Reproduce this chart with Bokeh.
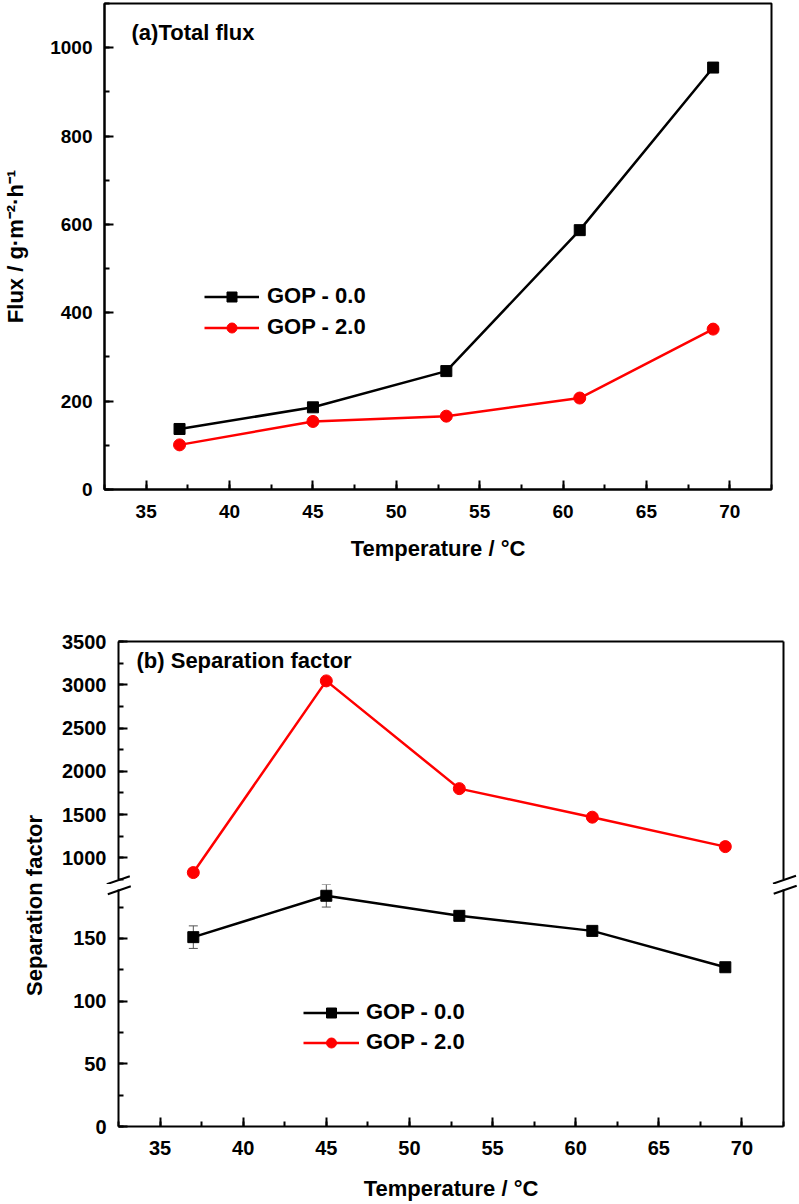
import math
from bokeh.plotting import figure
from bokeh.layouts import column, row
from bokeh.models import (Range1d, LinearAxis, SingleIntervalTicker, FixedTicker, Legend,
                          LegendItem, Label, Whisker, TeeHead, ColumnDataSource)
from bokeh.embed import file_html
from bokeh.resources import INLINE

# ---------------- data ----------------
temperature = [37, 45, 53, 61, 69]
flux_gop_00 = [137, 186, 268, 587, 955]
flux_gop_20 = [101, 154, 166, 207, 363]
sep_gop_00 = [151, 184, 168, 156, 127]
sep_gop_00_err = [9, 9, 3, 2, 2]
sep_gop_20 = [830, 3045, 1800, 1470, 1130]
series_labels = ["GOP - 0.0", "GOP - 2.0"]
x_label = "Temperature / °C"
flux_label = "Flux / g·m⁻²·h⁻¹"
sep_label = "Separation factor"
title_a = "(a)Total flux"
title_b = "(b) Separation factor"

FONT = "Liberation Sans"
BLACK = "#000000"
RED = "#ff0000"
ERR = "#555555"
LW = 2.5

X_START, X_END = 32.5, 72.5          # visible temperature axis
UP_START, UP_END = 750, 3500         # upper segment of the broken axis
LO_START, LO_END = 0, 189            # lower segment of the broken axis


def base_fig(**kw):
    p = figure(output_backend="svg", toolbar_location=None, tools="", **kw)
    p.grid.visible = False
    p.background_fill_color = "white"
    p.border_fill_color = "white"
    return p


def style_axis(ax, label_px, standoff, title_standoff=10):
    ax.axis_line_color = BLACK
    ax.axis_line_width = 2
    ax.major_tick_line_color = BLACK
    ax.major_tick_line_width = 2
    ax.major_tick_in = 9
    ax.major_tick_out = 0
    ax.minor_tick_line_color = BLACK
    ax.minor_tick_line_width = 2
    ax.minor_tick_in = 5
    ax.minor_tick_out = 0
    ax.major_label_text_font = FONT
    ax.major_label_text_font_size = label_px
    ax.major_label_text_font_style = "bold"
    ax.major_label_text_color = BLACK
    ax.major_label_standoff = standoff
    ax.axis_label_text_font = FONT
    ax.axis_label_text_font_size = "22px"
    ax.axis_label_text_font_style = "bold"
    ax.axis_label_text_color = BLACK
    ax.axis_label_standoff = title_standoff


def plain_axis(fig, side, bounds, fixed):
    ax = LinearAxis(ticker=FixedTicker(ticks=[]), axis_line_width=2, axis_line_color=BLACK,
                    major_tick_in=0, major_tick_out=0, minor_tick_in=0, minor_tick_out=0,
                    major_label_standoff=0, bounds=bounds, fixed_location=fixed)
    fig.add_layout(ax, side)


def make_legend(items, loc, glyph_w, standoff, spacing):
    return Legend(items=items, location=loc, orientation="vertical",
                  glyph_width=glyph_w, glyph_height=25, label_height=25,
                  label_standoff=standoff, spacing=spacing, padding=0, margin=0,
                  border_line_color=None, background_fill_alpha=0,
                  label_text_font=FONT, label_text_font_size="22px",
                  label_text_font_style="bold", label_text_color=BLACK)


def text_label(fig, x, y, text, dx=0, dy=0, align="left", angle=0.0):
    fig.add_layout(Label(x=x, y=y, x_offset=dx, y_offset=dy, text=text, angle=angle,
                         text_font=FONT, text_font_size="22px", text_font_style="bold",
                         text_color=BLACK, text_align=align, text_baseline="middle"))


# ---------------- (a) total flux ----------------
P1_FW, P1_FH = 667, 486
p1 = base_fig(width=104 + P1_FW + 8, height=3 + P1_FH + 90,
              x_range=Range1d(X_START, X_END), y_range=Range1d(0, 1100),
              min_border_left=104, min_border_right=8, min_border_top=3, min_border_bottom=90)
p1.outline_line_color = BLACK
p1.outline_line_width = 2
p1.outline_line_alpha = 1
p1.xaxis.ticker = SingleIntervalTicker(interval=5, num_minor_ticks=2)
p1.yaxis.ticker = SingleIntervalTicker(interval=200, num_minor_ticks=2)
p1.xaxis.axis_label = x_label
p1.yaxis.axis_label = flux_label
style_axis(p1.xaxis[0], "19px", 15, 15)
style_axis(p1.yaxis[0], "19px", 12, 19)

a_l0 = p1.line(temperature, flux_gop_00, line_color=BLACK, line_width=LW)
a_s0 = p1.scatter(temperature, flux_gop_00, marker="square", size=11, fill_color=BLACK, line_color=BLACK)
a_l2 = p1.line(temperature, flux_gop_20, line_color=RED, line_width=LW)
a_s2 = p1.scatter(temperature, flux_gop_20, marker="circle", size=12, fill_color=RED, line_color=RED)

p1.add_layout(make_legend([LegendItem(label=series_labels[0], renderers=[a_l0, a_s0]),
                           LegendItem(label=series_labels[1], renderers=[a_l2, a_s2])],
                          (100, 149), 55, 8, 5))
text_label(p1, X_START, p1.y_range.end, title_a, dx=27, dy=-29)

# ---------------- (b) separation factor (broken y axis) ----------------
# The frames reach past the drawn box (all axes are placed with fixed_location/bounds),
# so tick labels, axis title and the "//" break marks are drawn inside the frames.
PT_W = 48
BOX_W = 665                     # px between left and right axis
EXT_L, EXT_R = 118 - PT_W, 14
EXT_TOP, EXT_GAP, EXT_BOT = 12, 5, 78
SX = BOX_W / (X_END - X_START)  # px per degree
PU_BOX_H, PL_BOX_H = 238, 237
SY_UP = PU_BOX_H / (UP_END - UP_START)
SY_LO = PL_BOX_H / (LO_END - LO_START)

x_range_b = Range1d(X_START - EXT_L / SX, X_END + EXT_R / SX)
FRAME_W = BOX_W + EXT_L + EXT_R

pu = base_fig(width=FRAME_W + 1, height=62 + PU_BOX_H + EXT_GAP,
              x_range=x_range_b,
              y_range=Range1d(UP_START - EXT_GAP / SY_UP, UP_END + EXT_TOP / SY_UP),
              x_axis_location=None,
              min_border_left=0, min_border_right=1, min_border_top=62 - EXT_TOP,
              min_border_bottom=0)
pu.outline_line_color = None
pu.yaxis.ticker = SingleIntervalTicker(interval=500, num_minor_ticks=2)
pu.yaxis.fixed_location = X_START
pu.yaxis.bounds = (UP_START, UP_END)
style_axis(pu.yaxis[0], "20px", 12)
plain_axis(pu, "above", (X_START, X_END), UP_END)
plain_axis(pu, "right", (UP_START, UP_END), X_END)

pu.line(temperature, sep_gop_20, line_color=RED, line_width=LW)
pu.scatter(temperature, sep_gop_20, marker="circle", size=12, fill_color=RED, line_color=RED)
text_label(pu, X_START, UP_END, title_b, dx=18, dy=-19)

pl = base_fig(width=FRAME_W + 1, height=EXT_GAP + PL_BOX_H + EXT_BOT,
              x_range=x_range_b,
              y_range=Range1d(LO_START - EXT_BOT / SY_LO, LO_END + EXT_GAP / SY_LO),
              min_border_left=0, min_border_right=1, min_border_top=0, min_border_bottom=0)
pl.outline_line_color = None
pl.xaxis.ticker = SingleIntervalTicker(interval=5, num_minor_ticks=2)
pl.xaxis.fixed_location = LO_START
pl.xaxis.bounds = (X_START, X_END)
pl.yaxis.ticker = SingleIntervalTicker(interval=50, num_minor_ticks=2)
pl.yaxis.fixed_location = X_START
pl.yaxis.bounds = (LO_START, LO_END)
style_axis(pl.xaxis[0], "20px", 14)
style_axis(pl.yaxis[0], "20px", 12)
plain_axis(pl, "right", (LO_START, LO_END), X_END)
# x-axis title, centred under the drawn box
text_label(pl, (X_START + X_END) / 2, LO_START, x_label, dy=-62, align="center")

err_src = ColumnDataSource(dict(
    x=temperature,
    upper=[v + e for v, e in zip(sep_gop_00, sep_gop_00_err)],
    lower=[v - e for v, e in zip(sep_gop_00, sep_gop_00_err)],
))
pl.add_layout(Whisker(source=err_src, base="x", upper="upper", lower="lower",
                      line_color=ERR, line_width=1,
                      upper_head=TeeHead(size=9, line_color=ERR, line_width=1),
                      lower_head=TeeHead(size=9, line_color=ERR, line_width=1)))
b_l0 = pl.line(temperature, sep_gop_00, line_color=BLACK, line_width=LW)
b_s0 = pl.scatter(temperature, sep_gop_00, marker="square", size=11, fill_color=BLACK, line_color=BLACK)
# the GOP-2.0 series lies entirely in the upper segment; drawn here (clipped away) for the legend
b_l2 = pl.line(temperature, sep_gop_20, line_color=RED, line_width=LW)
b_s2 = pl.scatter(temperature, sep_gop_20, marker="circle", size=12, fill_color=RED, line_color=RED)
pl.add_layout(make_legend([LegendItem(label=series_labels[0], renderers=[b_l0, b_s0]),
                           LegendItem(label=series_labels[1], renderers=[b_l2, b_s2])],
                          (304 - PT_W - 1, 71 + EXT_BOT), 56, 7, 4))


# axis-break marks "//": strokes given in pixels relative to the axis ends
def break_strokes(fig, y_anchor, sy, strokes, half_w=11.5, half_h=4.0):
    x0, y0, x1, y1 = [], [], [], []
    for x_anchor, dx, dy in strokes:
        cx = x_anchor + dx / SX
        cy = y_anchor - dy / sy
        x0.append(cx - half_w / SX)
        x1.append(cx + half_w / SX)
        y0.append(cy - half_h / sy)
        y1.append(cy + half_h / sy)
    fig.segment(x0=x0, y0=y0, x1=x1, y1=y1, line_color=BLACK, line_width=2)


break_strokes(pu, UP_START, SY_UP, [(X_START, -0.2, 0.7), (X_END, 1.0, 0.2)])
break_strokes(pl, LO_END, SY_LO, [(X_START, 0.8, 0.7), (X_END, 1.7, 0.2)])

# y title of the broken panel, centred as in the original
PT_H = pu.height + pl.height
pt = base_fig(width=PT_W, height=PT_H, x_range=Range1d(0, PT_W), y_range=Range1d(0, PT_H),
              x_axis_location=None, y_axis_location=None, min_border=0)
pt.outline_line_color = None
text_label(pt, 34, PT_H - 326, sep_label, align="center", angle=math.pi / 2)

layout = column(p1, row(pt, column(pu, pl)))

open("out.html", "w").write(file_html(layout, INLINE))
